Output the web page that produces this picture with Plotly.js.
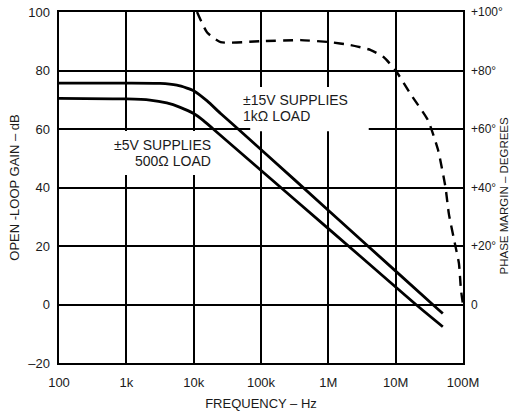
<!DOCTYPE html>
<html>
<head>
<meta charset="utf-8">
<script src="https://cdn.plot.ly/plotly-3.0.1.min.js"></script>
<style>html,body{margin:0;padding:0;background:#fff;}#chart{width:509px;height:413px;}</style>
</head>
<body>
<div id="chart"></div>
<script>
// Gain, ±15V supplies, 1kΩ load (frequency Hz, gain dB)
const freq15 = [100, 1000, 3162, 5623, 7943, 10000, 15849, 25119, 45709, 316200, 3162000, 35480000, 50120000];
const gain15 = [75.7, 75.7, 75.6, 75.0, 74.0, 73.1, 69.6, 65.3, 60.0, 42.6, 21.8, 0.0, -3.1];
// Gain, ±5V supplies, 500Ω load
const freq5 = [100, 1000, 2239, 3981, 6310, 10000, 14125, 19498, 316200, 3162000, 19950000, 50120000];
const gain5 = [70.5, 70.3, 69.9, 68.9, 67.4, 65.3, 62.8, 60.0, 35.9, 16.0, 0.0, -7.6];
// Phase margin (degrees)
const freqPh = [11220, 15850, 25120, 97700, 389000, 1047000, 2138000, 4266000, 6607000, 10000000, 16600000, 30200000, 42660000, 55000000, 61660000, 77600000, 87100000, 93300000, 100000000];
const phase = [100, 93, 89.7, 90, 90.4, 89.7, 88.7, 87, 84.6, 80, 72, 63, 52.8, 40, 31, 19.7, 14, 5, 0];

const xTickVals = [100, 1e3, 1e4, 1e5, 1e6, 1e7, 1e8];
const xTickText = ['100', '1k', '10k', '100k', '1M', '10M', '100M'];
const yTickVals = [-20, 0, 20, 40, 60, 80, 100];
const yTickText = ['\u201320', '0', '20', '40', '60', '80', '100'];
const y2TickVals = [0, 20, 40, 60, 80, 100];
const y2TickText = ['0', '+20\u00b0', '+40\u00b0', '+60\u00b0', '+80\u00b0', '+100\u00b0'];

const fontFam = '"Liberation Sans", Arial, sans-serif';
const txtColor = '#1a1a1a';
const lineStyle = {color: '#000', width: 2.8};

const traces = [
  {x: freq15, y: gain15, mode: 'lines', line: Object.assign({shape: 'spline', smoothing: 0.5}, lineStyle), hoverinfo: 'skip'},
  {x: freq5, y: gain5, mode: 'lines', line: Object.assign({shape: 'spline', smoothing: 0.5}, lineStyle), hoverinfo: 'skip'},
  {x: freqPh, y: phase, yaxis: 'y2', mode: 'lines', line: {color: '#000', width: 2.4, dash: '10px,7px', shape: 'spline', smoothing: 0.5}, hoverinfo: 'skip'}
];

const axFont = {family: fontFam, size: 13, color: txtColor};
const annFont = {family: fontFam, size: 14, color: txtColor};

const layout = {
  width: 509, height: 413,
  margin: {l: 59, r: 46, t: 12, b: 50},
  paper_bgcolor: '#fff', plot_bgcolor: '#fff',
  showlegend: false,
  font: {family: fontFam, size: 13, color: txtColor},
  xaxis: {
    type: 'log', range: [2, 8],
    tickvals: xTickVals, ticktext: xTickText, tickfont: axFont,
    ticklabelstandoff: 6,
    showgrid: true, gridcolor: '#000', gridwidth: 2,
    showline: true, linecolor: '#000', linewidth: 2.4, mirror: true,
    ticks: '', zeroline: false,
    title: {text: 'FREQUENCY \u2013 Hz', font: {family: fontFam, size: 13, color: txtColor}, standoff: 10}
  },
  yaxis: {
    range: [-20, 100],
    tickvals: yTickVals, ticktext: yTickText, tickfont: axFont,
    ticklabelstandoff: 4,
    showgrid: true, gridcolor: '#000', gridwidth: 2,
    showline: true, linecolor: '#000', linewidth: 2.4, mirror: true,
    ticks: '', zeroline: false,
    title: {text: 'OPEN -LOOP GAIN \u2013 dB', font: {family: fontFam, size: 13, color: txtColor}, standoff: 6}
  },
  yaxis2: {
    overlaying: 'y', side: 'right',
    range: [-20, 100],
    tickvals: y2TickVals, ticktext: y2TickText,
    tickfont: {family: fontFam, size: 12, color: txtColor},
    ticklabelstandoff: 7,
    showgrid: false, zeroline: false, showline: false, ticks: ''
  },
  shapes: [
    {type: 'rect', xref: 'x', yref: 'y', layer: 'between', x0: Math.pow(10, 4.84), x1: Math.pow(10, 6.6), y0: 59.2, y1: 74.4, fillcolor: '#fff', line: {width: 0}},
    {type: 'rect', xref: 'x', yref: 'y', layer: 'between', x0: Math.pow(10, 2.6), x1: Math.pow(10, 4.33), y0: 44.3, y1: 59.3, fillcolor: '#fff', line: {width: 0}}
  ],
  annotations: [
    {xref: 'x', yref: 'y', x: 4.71, y: 69.9, text: '\u00b115V SUPPLIES', showarrow: false, xanchor: 'left', yanchor: 'middle', font: annFont},
    {xref: 'x', yref: 'y', x: 4.71, y: 64.4, text: '1k\u03a9 LOAD', showarrow: false, xanchor: 'left', yanchor: 'middle', font: annFont},
    {xref: 'x', yref: 'y', x: 4.28, y: 54.6, text: '\u00b15V SUPPLIES', showarrow: false, xanchor: 'right', yanchor: 'middle', font: annFont},
    {xref: 'x', yref: 'y', x: 4.28, y: 49.0, text: '500\u03a9 LOAD', showarrow: false, xanchor: 'right', yanchor: 'middle', font: annFont},
    {xref: 'paper', yref: 'paper', x: 1, y: 0.5, xshift: 40, yshift: -8, xanchor: 'center', yanchor: 'middle', textangle: -90, showarrow: false, text: 'PHASE MARGIN \u2013 DEGREES', font: {family: fontFam, size: 11.5, color: txtColor}}
  ]
};

Plotly.newPlot('chart', traces, layout, {staticPlot: true, displayModeBar: false});
</script>
</body>
</html>
